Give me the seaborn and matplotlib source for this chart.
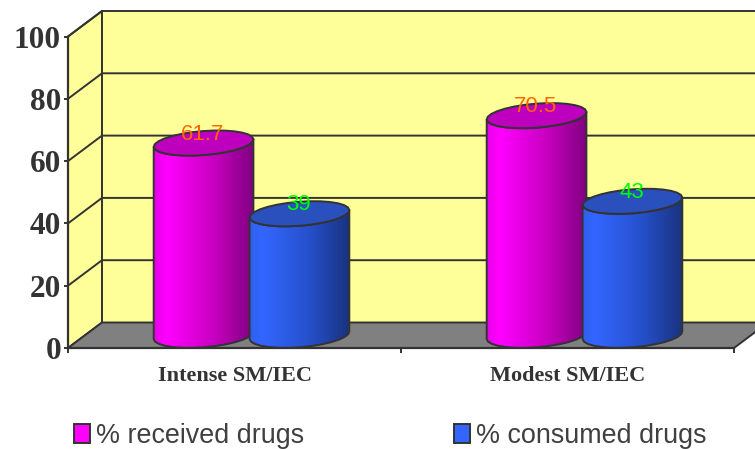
import numpy as np
import pandas as pd
import matplotlib
matplotlib.use("Agg")
import matplotlib.pyplot as plt
from matplotlib.colors import LinearSegmentedColormap
from matplotlib.patches import Polygon
from matplotlib.transforms import Affine2D
import seaborn as sns

groups = ["Intense SM/IEC", "Modest SM/IEC"]
series_names = ["% received drugs", "% consumed drugs"]
received = [61.7, 70.5]
consumed = [39, 43]
label_texts = [["61.7", "70.5"], ["39", "43"]]
y_ticks = [0, 20, 40, 60, 80, 100]

INK = "#333333"
WALL = "#FFFF99"
FLOOR = "#808080"
series_colors = ["#FF00FF", "#3366FF"]
top_colors = ["#BE00BE", "#2A50BE"]
grad_stops = [["#E800E8", "#FF00FF", "#C800C0", "#800080"],
              ["#2F5FEE", "#3366FF", "#2650CC", "#1A3380"]]
label_colors = ["#FF6600", "#00FF00"]

W, H = 755, 449
DX, DY = 34, -25.5          # depth of the 3D box, px
AX_L, AX_R, AX_T, AX_B = 68, 734, 36.5, 348
LW = 1.4

sns.set_theme(style="white")
fig = plt.figure(figsize=(W / 100, H / 100), dpi=100, facecolor="white")
ax = fig.add_axes([AX_L / W, (H - AX_B) / H, (AX_R - AX_L) / W, (AX_B - AX_T) / H])
ax.patch.set_visible(False)

df = pd.DataFrame({
    "group": groups * 2,
    "series": [series_names[0]] * 2 + [series_names[1]] * 2,
    "value": received + consumed,
})
sns.barplot(data=df, x="group", y="value", hue="series", order=groups,
            hue_order=series_names, palette=series_colors, width=0.576, gap=0,
            saturation=1, edgecolor=INK, linewidth=LW, ax=ax)
ax.set_xlim(-0.5, 1.5)
ax.set_ylim(0, 100)
ax.set_xlabel("")
ax.set_ylabel("")

# pixel coordinates, origin top-left
px = Affine2D().scale(1, -1).translate(0, H)
def to_px(x, y):
    d = ax.transData.transform((x, y))
    return d[0], H - d[1]

# box
ax.add_patch(Polygon([(AX_L, AX_T), (AX_L + DX, AX_T + DY), (AX_L + DX, AX_B + DY), (AX_L, AX_B)],
                     closed=True, fc=WALL, ec=INK, lw=LW, transform=px, zorder=0.2, clip_on=False))
ax.add_patch(Polygon([(AX_L + DX, AX_T + DY), (AX_R + DX, AX_T + DY), (AX_R + DX, AX_B + DY), (AX_L + DX, AX_B + DY)],
                     closed=True, fc=WALL, ec=INK, lw=LW, transform=px, zorder=0.2, clip_on=False))
ax.add_patch(Polygon([(AX_L, AX_B), (AX_R, AX_B), (AX_R + DX, AX_B + DY), (AX_L + DX, AX_B + DY)],
                     closed=True, fc=FLOOR, ec=INK, lw=LW, transform=px, zorder=0.3, clip_on=False))
for v in y_ticks[1:-1]:
    _, yy = to_px(0, v)
    ax.plot([AX_L, AX_L + DX, AX_R + DX], [yy, yy + DY, yy + DY], color=INK, lw=LW,
            transform=px, zorder=0.4, clip_on=False)
_, yy = to_px(0, 100)
ax.plot([AX_L, AX_L + DX], [yy, yy + DY], color=INK, lw=LW, transform=px, zorder=0.4, clip_on=False)

# cylinders built from the bars seaborn laid out
RX, RY, TILT = 50, 12, np.deg2rad(-4.5)
def ellipse_pts(cx, cy, t):
    ex = RX * np.cos(t)
    ey = RY * np.sin(t)
    return np.c_[cx + ex * np.cos(TILT) - ey * np.sin(TILT),
                 cy + ex * np.sin(TILT) + ey * np.cos(TILT)]

z = 3.0
order = [(0, 0), (1, 0), (0, 1), (1, 1)]   # (series, group)
for s, g in order:
    bar = ax.containers[s].patches[g]
    bar.set_visible(False)
    xc = bar.get_x() + bar.get_width() / 2
    val = bar.get_height()
    cx, ytop = to_px(xc, val)
    _, ybot = to_px(xc, 0)
    cx += DX / 2
    ytop += DY / 2
    ybot += DY / 2
    lower = np.linspace(np.pi, 0, 15)      # left -> right along the front edge
    top_front = ellipse_pts(cx, ytop, lower)
    bot_front = ellipse_pts(cx, ybot, lower)
    body_xy = np.vstack([top_front, bot_front[::-1]])
    body = Polygon(body_xy, closed=True, fc="none", ec=INK, lw=LW, transform=px,
                   zorder=z + 0.2, clip_on=False, joinstyle="round")
    ax.add_patch(body)
    cmap = LinearSegmentedColormap.from_list("c", list(zip([0, 0.13, 0.6, 1], grad_stops[s])))
    im = ax.imshow(np.linspace(0, 1, 200)[None, :], cmap=cmap, aspect="auto",
                   extent=(cx - RX, cx + RX, 0, H), transform=px, zorder=z, interpolation="bilinear")
    clip = Polygon(body_xy, closed=True, transform=px)
    im.set_clip_path(clip)
    t = np.linspace(0, 2 * np.pi, 29)
    ax.add_patch(Polygon(ellipse_pts(cx, ytop, t), closed=True, fc=top_colors[s], ec=INK, lw=LW,
                         transform=px, zorder=z + 0.3, clip_on=False))
    ax.text(cx - 1, ytop - 9, label_texts[s][g], transform=px, ha="center", va="center",
            color=label_colors[s], fontsize=16, family="Liberation Sans", zorder=10, clip_on=False)
    z += 1

ax.set_xlim(-0.5, 1.5)
ax.set_ylim(0, 100)

# axes
for side in ["top", "right"]:
    ax.spines[side].set_visible(False)
for side in ["left", "bottom"]:
    ax.spines[side].set_color(INK)
    ax.spines[side].set_linewidth(LW + 0.2)
ax.set_yticks(y_ticks)
ax.set_yticklabels([str(v) for v in y_ticks], family="Liberation Serif", fontweight="bold",
                   fontsize=22.5, color=INK)
ax.tick_params(axis="y", left=True, length=3, width=LW, color=INK, pad=2)
ax.set_xticks([0, 1])
ax.set_xticklabels(groups, family="Liberation Serif", fontweight="bold", fontsize=16, color=INK)
ax.set_xticks([-0.5, 0.5, 1.5], minor=True)
ax.tick_params(axis="x", which="major", bottom=False, pad=7)
ax.tick_params(axis="x", which="minor", bottom=True, length=3.5, width=LW, color=INK)

sns.move_legend(ax, "lower left", bbox_to_anchor=(74 / W, 0 / H), bbox_transform=fig.transFigure,
                ncol=2, frameon=False, title=None, labelcolor="#404040",
                handlelength=0.6, handleheight=0.66, handletextpad=0.22, columnspacing=5.55,
                borderpad=0.0, borderaxespad=0.0, prop={"family": "Liberation Sans", "size": 19.4})

fig.savefig("out.png", dpi=100)
